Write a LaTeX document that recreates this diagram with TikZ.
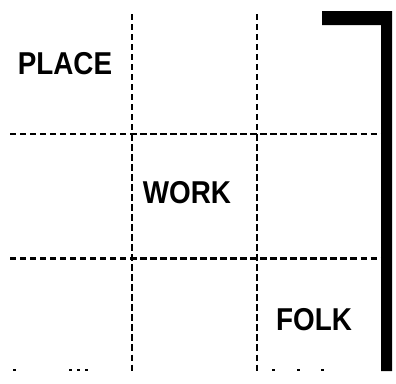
\documentclass[tikz,border=0pt]{standalone}
\usepackage{fontspec}
\newfontfamily\gridfont[FakeStretch=0.88]{Liberation Sans Bold}
\usepackage{tikz}
\tikzset{
  gridline/.style={line width=1.7pt, dash pattern=on 3.6pt off 2.1pt},
  stub/.style={line width=1.5pt},
  bar/.style={fill=black, draw=none},
  cell/.style={font=\gridfont\fontsize{18}{18}\selectfont, inner sep=0pt}
}

\begin{document}
\begin{tikzpicture}[x=0.02cm, y=-0.02cm]
  \useasboundingbox (0,0) rectangle (396,383);
  % dashed grid
  \foreach \gx in {132,257}
    \draw[gridline] (\gx,14) -- (\gx,372);
  \foreach \gy in {134,258}
    \draw[gridline] (10,\gy) -- (382,\gy);
  % what is left of the bottom line
  \foreach \sx in {13,69,77,85,272,297,321}
    \draw[stub] (\sx,370) -- ++(3,0);
  % heavy bracket on the right
  \fill[bar] (322,11) -- (392,11) -- (392,371) -- (381,371) -- (381,25) -- (322,25) -- cycle;
  % cell labels
  \node[cell] (place) at (65,64) {PLACE};
  \node[cell] (work) at (187,193) {WORK};
  \node[cell] (folk) at (314,320) {FOLK};
\end{tikzpicture}
\end{document}
